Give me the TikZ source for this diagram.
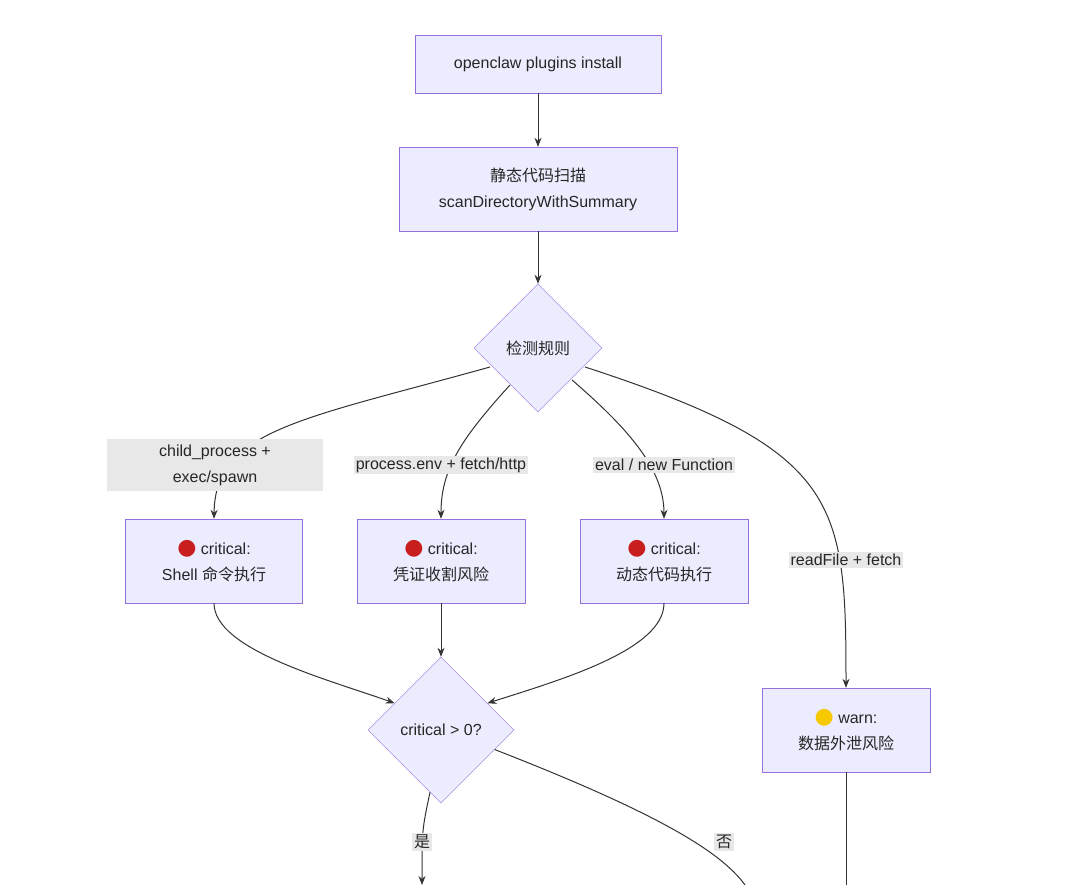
\documentclass[tikz,border=0pt]{standalone}
\usepackage{fontspec}
\setmainfont{Liberation Sans}
\newfontfamily\cjk{Noto Sans CJK SC}
\newfontfamily\sym{DejaVu Sans}
\usetikzlibrary{shapes.geometric,arrows.meta}
\definecolor{boxfill}{HTML}{ECECFF}
\definecolor{boxline}{HTML}{9370DB}
\definecolor{edgeline}{HTML}{333333}
\definecolor{labfill}{HTML}{E8E8E8}
\newcommand{\zh}[1]{{\cjk #1}}
\newcommand{\reddot}{{\sym\fontsize{22}{22}\selectfont\color[HTML]{C81E1E}●}}
\newcommand{\yellowdot}{{\sym\fontsize{22}{22}\selectfont\color[HTML]{F5C800}●}}
\tikzset{
  stepbox/.style={draw=boxline,fill=boxfill,align=center,inner sep=0pt},
  check/.style={draw=boxline,fill=boxfill,diamond,inner sep=0pt,align=center},
  edgelab/.style={fill=labfill,align=center,inner sep=2pt},
  flow/.style={draw=edgeline,line width=1pt,-{Stealth[length=9pt,width=7pt]}}
}
\begin{document}
\begin{tikzpicture}[x=1pt,y=-1pt,font=\fontsize{16}{26}\selectfont,text=black!85]
\useasboundingbox (0,0) rectangle (1080,885);
\node[stepbox,minimum width=246,minimum height=58] (install) at (538,64) {openclaw plugins install};
\node[stepbox,minimum width=278,minimum height=84] (scan) at (538,189) {\zh{静态代码扫描}\\scanDirectoryWithSummary};
\node[check,minimum width=128,minimum height=128] (rules) at (538,348) {\zh{检测规则}};
\node[stepbox,minimum width=177,minimum height=84] (shell) at (214,561) {\reddot{} critical:\\Shell \zh{命令执行}};
\node[stepbox,minimum width=168,minimum height=84] (cred) at (441,561) {\reddot{} critical:\\\zh{凭证收割风险}};
\node[stepbox,minimum width=168,minimum height=84] (dyn) at (664,561) {\reddot{} critical:\\\zh{动态代码执行}};
\node[stepbox,minimum width=168,minimum height=84] (warn) at (846,730) {\yellowdot{} warn:\\\zh{数据外泄风险}};
\node[check,minimum width=146,minimum height=146] (crit) at (441,730) {critical \textgreater{} 0?};
\coordinate (yesend) at (422,885);
\coordinate (noend) at (745,885);
\coordinate (warnend) at (846,885);
% edges
\draw[flow] (install) -- (scan);
\draw[flow] (scan) -- (rules);
\draw[flow] (490,367) .. controls (300,420) and (215,430) .. (shell.north);
\draw[flow] (510,385) .. controls (460,440) and (441,470) .. (cred.north);
\draw[flow] (572,380) .. controls (630,430) and (664,470) .. (dyn.north);
\draw[flow] (585,367) .. controls (840,450) and (846,500) .. (warn.north);
\draw[flow] (shell.south) .. controls (214,650) and (330,680) .. (crit.150);
\draw[flow] (cred.south) -- (crit.north);
\draw[flow] (dyn.south) .. controls (664,650) and (560,680) .. (crit.30);
\draw[flow] (crit.260) .. controls (422,830) .. (yesend);
\draw[draw=edgeline,line width=1pt] (crit.340) .. controls (650,810) and (720,850) .. (noend);
\draw[draw=edgeline,line width=1pt] (warn.south) -- (warnend);
% labels
\node[edgelab,minimum width=216,minimum height=51] (lshell) at (215,465) {child\_process +\\exec/spawn};
\node[edgelab] (lcred) at (441,465) {process.env + fetch/http};
\node[edgelab] (ldyn) at (664,465) {eval / new Function};
\node[edgelab] (lwarn) at (846,560) {readFile + fetch};
\node[edgelab] (lyes) at (422,842) {\zh{是}};
\node[edgelab] (lno) at (724,842) {\zh{否}};
\end{tikzpicture}
\end{document}
